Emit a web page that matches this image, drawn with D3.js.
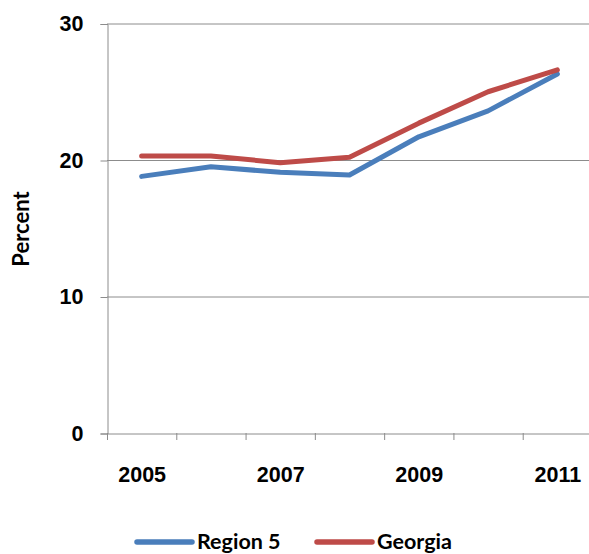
<!DOCTYPE html>
<html>
<head>
<meta charset="utf-8">
<script src="https://cdn.jsdelivr.net/npm/d3@7"></script>
<style>
  body { margin: 0; background: #fff; }
  svg { display: block; font-family: Lato, "Open Sans", sans-serif; font-weight: bold; }
</style>
</head>
<body>
<svg id="chart"></svg>
<script>
const years = [2005, 2006, 2007, 2008, 2009, 2010, 2011];
const region5 = [18.8, 19.5, 19.1, 18.9, 21.7, 23.6, 26.3];
const georgia = [20.3, 20.3, 19.8, 20.2, 22.7, 25.0, 26.6];
const yTicks = [0, 10, 20, 30];
const xLabels = [2005, 2007, 2009, 2011];

const series = [
  {name: "Region 5", values: region5, color: "#4a7ebb"},
  {name: "Georgia", values: georgia, color: "#be4b48"}
];

const width = 589, height = 554;
const svg = d3.select("#chart").attr("width", width).attr("height", height);

const x = d3.scaleBand(years, [107, 592]);
const y = d3.scaleLinear([0, 30], [433, 23.5]);

// grid
svg.append("g")
  .selectAll("line")
  .data(yTicks.filter(d => d > 0))
  .join("line")
    .attr("x1", 107).attr("x2", 592)
    .attr("y1", d => y(d) + 0.5).attr("y2", d => y(d) + 0.5)
    .attr("stroke", "#8c8c8c");

// y axis
svg.append("g")
    .attr("transform", "translate(107.5,0.5)")
    .call(d3.axisLeft(y).tickValues(yTicks).tickSize(7).tickPadding(17))
    .call(g => g.selectAll("path, line").attr("stroke", "#8c8c8c"))
    .call(g => g.selectAll("text").attr("font-size", 21.5).attr("fill", "#000").attr("font-family", null));

// x axis
svg.append("g")
    .attr("transform", "translate(0.5,433.5)")
    .call(d3.axisBottom(x).tickSize(0).tickFormat(d => xLabels.includes(d) ? d : ""))
    .call(g => g.select(".domain").attr("stroke", "#8c8c8c"))
    .call(g => g.selectAll("text").attr("font-size", 21.5).attr("fill", "#000").attr("font-family", null).attr("y", 33));

// category tick marks between bands
svg.append("g")
  .selectAll("line")
  .data(years.concat([null]))
  .join("line")
    .attr("x1", (d, i) => 107.5 + i * x.bandwidth())
    .attr("x2", (d, i) => 107.5 + i * x.bandwidth())
    .attr("y1", 433).attr("y2", 440)
    .attr("stroke", "#8c8c8c");

// lines
const line = d3.line()
  .x((d, i) => x(years[i]) + x.bandwidth() / 2)
  .y(d => y(d));

svg.append("g")
  .selectAll("path")
  .data(series)
  .join("path")
    .attr("d", d => line(d.values))
    .attr("fill", "none")
    .attr("stroke", d => d.color)
    .attr("stroke-width", 5)
    .attr("stroke-linejoin", "round")
    .attr("stroke-linecap", "round");

// y title
svg.append("text")
    .attr("transform", "translate(29,229) rotate(-90)")
    .attr("text-anchor", "middle")
    .attr("font-size", 22)
    .text("Percent");

// legend
const legendX = [137, 317];
const leg = svg.append("g")
  .selectAll("g")
  .data(series)
  .join("g")
    .attr("transform", (d, i) => `translate(${legendX[i]},542)`);
leg.append("line")
    .attr("x1", 0).attr("x2", 55)
    .attr("stroke", d => d.color)
    .attr("stroke-width", 5.5)
    .attr("stroke-linecap", "round");
leg.append("text")
    .attr("x", 60).attr("y", 7)
    .attr("font-size", 21.5)
    .text(d => d.name);
</script>
</body>
</html>
